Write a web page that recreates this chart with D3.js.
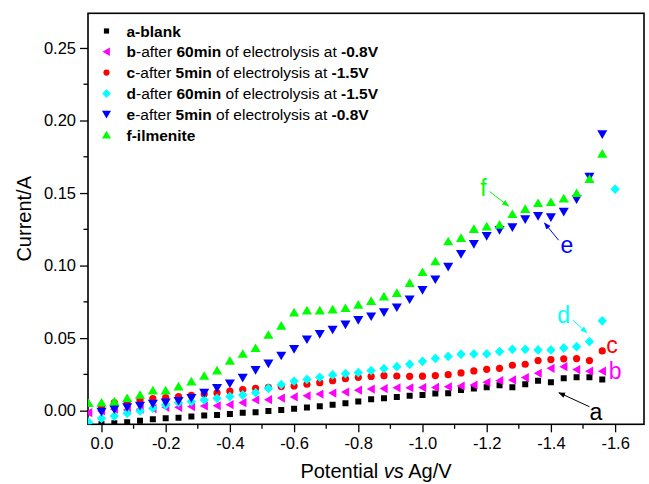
<!DOCTYPE html>
<html><head><meta charset="utf-8">
<script src="https://cdn.jsdelivr.net/npm/d3@7"></script>
<style>body{margin:0;background:#fff}svg{display:block;font-family:Arial,"Liberation Sans",sans-serif}</style>
</head><body><svg id="c" width="649" height="484"></svg>
<script>
// ---- data ----
const xFull = [0.04,0.00,-0.04,-0.08,-0.12,-0.16,-0.20,-0.24,-0.28,-0.32,-0.36,-0.40,-0.44,-0.48,-0.52,-0.56,-0.60,-0.64,-0.68,-0.72,-0.76,-0.80,-0.84,-0.88,-0.92,-0.96,-1.00,-1.04,-1.08,-1.12,-1.16,-1.20,-1.24,-1.28,-1.32,-1.36,-1.40,-1.44,-1.48,-1.52,-1.56];
const xFrom0 = xFull.slice(1);
const xCyan = xFull.concat([-1.60]);
const aBlank = [-0.0094,-0.0087,-0.0080,-0.0069,-0.0060,-0.0053,-0.0048,-0.0041,-0.0034,-0.0030,-0.0023,-0.0014,-0.0011,-0.0002,0.0005,0.0014,0.0021,0.0030,0.0041,0.0051,0.0064,0.0079,0.0086,0.0094,0.0102,0.0108,0.0118,0.0120,0.0143,0.0152,0.0161,0.0175,0.0161,0.0182,0.0207,0.0196,0.0223,0.0230,0.0230,0.0214];
const bSeries = [-0.0014,-0.0002,0.0010,0.0005,0.0010,0.0014,0.0023,0.0023,0.0028,0.0032,0.0034,0.0041,0.0055,0.0074,0.0076,0.0087,0.0095,0.0102,0.0114,0.0121,0.0128,0.0141,0.0149,0.0152,0.0158,0.0158,0.0159,0.0160,0.0165,0.0170,0.0177,0.0196,0.0207,0.0212,0.0228,0.0258,0.0292,0.0303,0.0283,0.0272,0.0272];
const cSeries = [0.0030,0.0055,0.0060,0.0074,0.0083,0.0090,0.0097,0.0106,0.0115,0.0122,0.0134,0.0146,0.0154,0.0160,0.0166,0.0170,0.0182,0.0193,0.0207,0.0220,0.0230,0.0236,0.0241,0.0239,0.0237,0.0238,0.0242,0.0248,0.0260,0.0274,0.0285,0.0292,0.0313,0.0320,0.0345,0.0352,0.0357,0.0359,0.0345,0.0412];
const dSeries = [-0.0080,-0.0053,-0.0037,-0.0018,-0.0002,0.0017,0.0039,0.0055,0.0062,0.0074,0.0085,0.0097,0.0108,0.0124,0.0154,0.0180,0.0203,0.0215,0.0230,0.0246,0.0255,0.0262,0.0276,0.0290,0.0303,0.0320,0.0340,0.0360,0.0374,0.0389,0.0391,0.0391,0.0407,0.0423,0.0423,0.0419,0.0419,0.0432,0.0441,0.0476,0.0619,0.1527];
const eSeries = [-0.0007,0.0010,0.0025,0.0035,0.0048,0.0058,0.0068,0.0088,0.0124,0.0157,0.0189,0.0228,0.0281,0.0326,0.0380,0.0426,0.0492,0.0529,0.0559,0.0595,0.0626,0.0651,0.0679,0.0713,0.0768,0.0832,0.0906,0.0993,0.1081,0.1150,0.1205,0.1246,0.1265,0.1320,0.1343,0.1334,0.1372,0.1458,0.1614,0.1906];
const fSeries = [0.0051,0.0055,0.0062,0.0086,0.0108,0.0138,0.0138,0.0166,0.0200,0.0239,0.0276,0.0343,0.0391,0.0430,0.0522,0.0585,0.0676,0.0690,0.0690,0.0697,0.0706,0.0729,0.0755,0.0786,0.0810,0.0879,0.0954,0.1028,0.1166,0.1189,0.1251,0.1269,0.1281,0.1354,0.1389,0.1430,0.1437,0.1462,0.1499,0.1596,0.1770];
const xTicks = [0,-0.2,-0.4,-0.6,-0.8,-1.0,-1.2,-1.4,-1.6];
const xMinor = [-0.1,-0.3,-0.5,-0.7,-0.9,-1.1,-1.3,-1.5];
const yTicks = [0,0.05,0.10,0.15,0.20,0.25];
const yMinor = [0.025,0.075,0.125,0.175,0.225];
const seriesKeys = ["a","b","c","d","e","f"];
const seriesColors = ["#000000","#ff00ff","#ff0000","#00ffff","#0000ff","#00ff00"];
const seriesShapes = ["square","left","circle","diamond","down","up"];
const legendParts = [
  [["a-blank",true]],
  [["b",true],["-after ",false],["60min",true],[" of electrolysis at ",false],["-0.8V",true]],
  [["c",true],["-after ",false],["5min",true],[" of electrolysis at ",false],["-1.5V",true]],
  [["d",true],["-after ",false],["60min",true],[" of electrolysis at ",false],["-1.5V",true]],
  [["e",true],["-after ",false],["5min",true],[" of electrolysis at ",false],["-0.8V",true]],
  [["f-ilmenite",true]]
];
const seriesX = [xFrom0, xFull, xFrom0, xCyan, xFrom0, xFull];
const seriesY = [aBlank, bSeries, cSeries, dSeries, eSeries, fSeries];
// annotations: label, color, label position (data), arrow from/to (data) or null
const annLabels = ["a","b","c","d","e","f"];
const annColors = ["#000000","#ff00ff","#ff0000","#00ffff","#0000ff","#00ff00"];
const annPos = [[-1.54,-0.0007],[-1.60,0.0275],[-1.59,0.0452],[-1.44,0.0658],[-1.45,0.1143],[-1.19,0.1535]];
const annArrow = [[[-1.52,0.0027],[-1.425,0.0124]],null,null,[[-1.468,0.0625],[-1.512,0.0537]],[[-1.424,0.1175],[-1.38,0.1294]],[[-1.209,0.1510],[-1.268,0.1411]]];

// ---- layout ----
const W=649,H=484, L=88, R=644, T=13.3, B=424.3;
const svg = d3.select("#c");
const x = d3.scaleLinear().domain([0.042,-1.69]).range([L,R]);
const y = d3.scaleLinear().domain([-0.0094,0.2739]).range([B,T]);

// custom symbol types (size = radius)
const shapes = {
  square:{draw(c,r){c.rect(-r,-r,2*r,2*r);}},
  circle:{draw(c,r){c.moveTo(r,0);c.arc(0,0,r,0,2*Math.PI);}},
  up:{draw(c,r){c.moveTo(0,-r*1.0);c.lineTo(r*1.05,r*0.8);c.lineTo(-r*1.05,r*0.8);c.closePath();}},
  down:{draw(c,r){c.moveTo(0,r*1.0);c.lineTo(r*1.05,-r*0.8);c.lineTo(-r*1.05,-r*0.8);c.closePath();}},
  left:{draw(c,r){c.moveTo(-r*0.95,0);c.lineTo(r*0.8,-r*1.0);c.lineTo(r*0.8,r*1.0);c.closePath();}},
  diamond:{draw(c,r){c.moveTo(0,-r);c.lineTo(r*0.95,0);c.lineTo(0,r);c.lineTo(-r*0.95,0);c.closePath();}}
};
const plotR = {square:3,circle:3.6,up:4.8,down:4.8,left:4.6,diamond:4.9};
const legR = {square:2.6,circle:3.1,up:4.3,down:4.3,left:4.2,diamond:4.5};

svg.append("defs").append("clipPath").attr("id","clip")
  .append("rect").attr("x",L).attr("y",T).attr("width",R-L).attr("height",B-T);

// axes
const xAxis = d3.axisBottom(x).tickValues(xTicks).tickSize(8).tickPadding(5).tickFormat(d=>d.toFixed(1));
const gx = svg.append("g").attr("transform",`translate(0,${B})`).call(xAxis);
gx.append("g").selectAll("line").data(xMinor).join("line")
  .attr("x1",d=>x(d)).attr("x2",d=>x(d)).attr("y1",0).attr("y2",4.5).attr("stroke","#000").attr("stroke-width",1.3);
const yAxis = d3.axisLeft(y).tickValues(yTicks).tickSize(8).tickPadding(4).tickFormat(d=>d.toFixed(2));
const gy = svg.append("g").attr("transform",`translate(${L},0)`).call(yAxis);
gy.append("g").selectAll("line").data(yMinor).join("line")
  .attr("y1",d=>y(d)).attr("y2",d=>y(d)).attr("x1",0).attr("x2",-4.5).attr("stroke","#000").attr("stroke-width",1.3);
[gx,gy].forEach(g=>{
  g.select(".domain").remove();
  g.selectAll(".tick line").attr("stroke","#000").attr("stroke-width",1.3);
  g.selectAll(".tick text").attr("font-size",16.5).attr("fill","#000").attr("font-family","Arial, 'Liberation Sans', sans-serif");
});
// frame
svg.append("rect").attr("x",L).attr("y",T).attr("width",R-L).attr("height",B-T)
  .attr("fill","none").attr("stroke","#000").attr("stroke-width",1.6);

// titles
const xt = svg.append("text").attr("x",(L+R)/2+10).attr("y",478).attr("text-anchor","middle").attr("font-size",20).attr("fill","#000");
xt.append("tspan").text("Potential ");
xt.append("tspan").attr("font-style","italic").text("vs");
xt.append("tspan").text(" Ag/V");
svg.append("text").attr("transform",`translate(31,${(T+B)/2}) rotate(-90)`).attr("text-anchor","middle")
  .attr("font-size",20).attr("fill","#000").text("Current/A");

// data
const gData = svg.append("g").attr("clip-path","url(#clip)");
seriesKeys.forEach((k,i)=>{
  const pts = seriesX[i].map((xv,j)=>[xv,seriesY[i][j]]).filter(p=>p[1]!==undefined);
  const sh = seriesShapes[i];
  gData.append("g").selectAll("path").data(pts).join("path")
    .attr("transform",d=>`translate(${x(d[0])},${y(d[1])})`)
    .attr("d",d3.symbol().type(shapes[sh]).size(plotR[sh]))
    .attr("fill",seriesColors[i]);
});

// legend
const lg = svg.append("g");
const legTop = 31, legStep = 20.8, legMX = 106.5, legTX = 126.5;
legendParts.forEach((parts,i)=>{
  const yy = legTop + i*legStep;
  const sh = seriesShapes[i];
  lg.append("path").attr("transform",`translate(${legMX},${yy})`)
    .attr("d",d3.symbol().type(shapes[sh]).size(legR[sh])).attr("fill",seriesColors[i]);
  const t = lg.append("text").attr("x",legTX).attr("y",yy).attr("dy","0.36em").attr("font-size",15.5).attr("fill","#000");
  parts.forEach(p=>t.append("tspan").attr("font-weight",p[1]?"bold":"normal").text(p[0]));
});

// annotations
const defs = svg.select("defs");
annColors.forEach((c,i)=>{
  defs.append("marker").attr("id","ah"+i).attr("viewBox","0 0 10 10").attr("refX",9).attr("refY",5)
    .attr("markerWidth",7).attr("markerHeight",7).attr("markerUnits","userSpaceOnUse").attr("orient","auto")
    .append("path").attr("d","M0,1 L10,5 L0,9 Z").attr("fill",c);
});
annLabels.forEach((lab,i)=>{
  svg.append("text").attr("x",x(annPos[i][0])).attr("y",y(annPos[i][1])).attr("dy","0.35em")
    .attr("text-anchor","middle").attr("font-size",23).attr("fill",annColors[i]).text(lab);
  if(annArrow[i]){
    const [p0,p1]=annArrow[i];
    svg.append("line").attr("x1",x(p0[0])).attr("y1",y(p0[1])).attr("x2",x(p1[0])).attr("y2",y(p1[1]))
      .attr("stroke",annColors[i]).attr("stroke-width",1).attr("marker-end",`url(#ah${i})`);
  }
});
</script></body></html>
